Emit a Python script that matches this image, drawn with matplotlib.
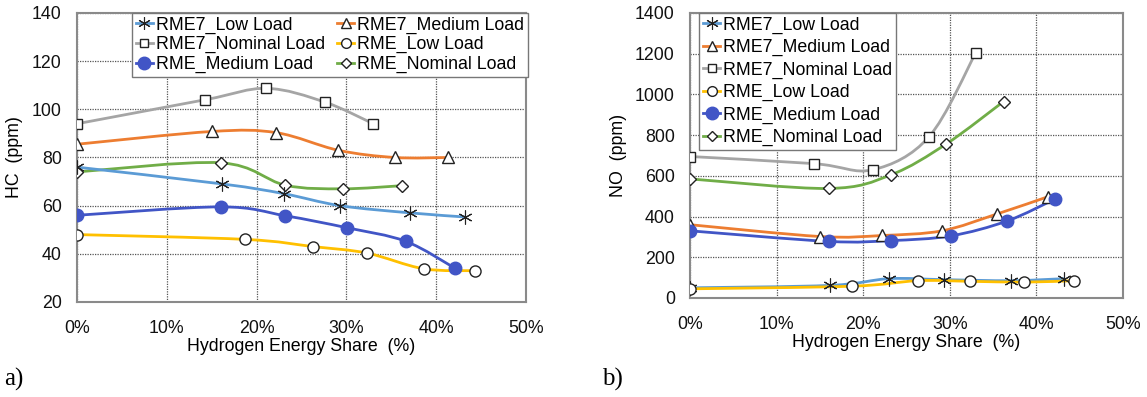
import numpy as np
import matplotlib
matplotlib.use("Agg")
import matplotlib.pyplot as plt
from matplotlib.path import Path
from matplotlib.patches import PathPatch
from matplotlib.lines import Line2D
from matplotlib.ticker import FuncFormatter

plt.rcParams['font.family'] = ['Liberation Sans', 'DejaVu Sans']

# Hydrogen energy share (%) and HC / NO emissions (ppm)
names = ["RME7_Low Load", "RME7_Medium Load", "RME7_Nominal Load",
         "RME_Low Load", "RME_Medium Load", "RME_Nominal Load"]

x_rme7_low = [0, 16.2, 23.0, 29.3, 37.1, 43.2]
x_rme7_med = [0, 15.0, 22.2, 29.1, 35.4, 41.3]
x_rme7_nom = [0, 14.3, 21.1, 27.6, 33.0]
x_rme_low = [0, 18.7, 26.3, 32.3, 38.6, 44.3]
x_rme_med = [0, 16.0, 23.2, 30.1, 36.6, 42.1]
x_rme_nom = [0, 16.0, 23.2, 29.6, 36.2]

hc_rme7_low = [76, 69, 65, 60, 57, 55.3]
hc_rme7_med = [85.5, 90.8, 90.3, 83, 80, 80]
hc_rme7_nom = [94, 104, 108.7, 103, 94]
hc_rme_low = [48, 46, 43, 40.3, 33.8, 33]
hc_rme_med = [56, 59.5, 55.8, 50.8, 45.2, 34]
hc_rme_nom = [74, 77.8, 68.5, 67, 68.3]

no_rme7_low = [50, 62, 95, 90, 85, 95]
no_rme7_med = [360, 302, 307, 330, 412, 497]
no_rme7_nom = [695, 660, 630, 792, 1205]
no_rme_low = [45, 58, 85, 82, 78, 85]
no_rme_med = [330, 278, 282, 305, 378, 485]
no_rme_nom = [585, 538, 605, 757, 965]

hc_ticks = [20, 40, 60, 80, 100, 120, 140]
no_ticks = [0, 200, 400, 600, 800, 1000, 1200, 1400]
x_ticks = [0, 10, 20, 30, 40, 50]

colors = ["#5B9BD5", "#ED7D31", "#A5A5A5", "#FFC000", "#4155C6", "#70AD47"]
markers = [(6, 2, 0), "^", "s", "o", "o", "D"]
msizes = [10, 8, 7, 8, 9, 6]
filled = [False, False, False, False, True, False]
STAR = (6, 2, 0)


def smooth_path(xs, ys):
    """Bezier path through the points, Excel-style smoothed line."""
    pts = np.column_stack([xs, ys]).astype(float)
    n = len(pts)
    verts = [pts[0]]
    codes = [Path.MOVETO]
    for i in range(n - 1):
        p0 = pts[i - 1] if i > 0 else pts[i]
        p1 = pts[i]
        p2 = pts[i + 1]
        p3 = pts[i + 2] if i + 2 < n else pts[i + 1]
        c1 = p1 + (p2 - p0) / 6.0
        c2 = p2 - (p3 - p1) / 6.0
        verts += [c1, c2, p2]
        codes += [Path.CURVE4] * 3
    return Path(verts, codes)


def marker_style(k, legend=False):
    if filled[k]:
        return dict(marker=markers[k], ms=msizes[k], mfc=colors[k], mec=colors[k])
    ms = msizes[k] - (1 if legend else 0)
    mew = 0.8 if markers[k] == STAR else 1.0
    mfc = "none" if markers[k] == STAR else "white"
    return dict(marker=markers[k], ms=ms, mfc=mfc, mec="#222222", mew=mew)


def draw_series(ax, xs, ys, k):
    patch = PathPatch(smooth_path(xs, ys), facecolor="none",
                      edgecolor=colors[k], lw=2.0, zorder=3,
                      transform=ax.transData)
    ax.add_patch(patch)
    ax.plot(xs, ys, ls="none", zorder=4, **marker_style(k))


def legend_handle(k):
    return Line2D([], [], color=colors[k], lw=2.0, **marker_style(k, legend=True))


def style_axes(ax, ylim, yticks):
    ax.set_xlim(0, 50)
    ax.set_ylim(*ylim)
    ax.set_xticks(x_ticks)
    ax.set_yticks(yticks)
    ax.xaxis.set_major_formatter(FuncFormatter(lambda v, p: f"{v:.0f}%"))
    ax.tick_params(length=0, labelsize=12.8, colors="#111111")
    ax.tick_params(axis="x", pad=13)
    ax.tick_params(axis="y", pad=11)
    ax.grid(True, ls=(0, (1, 1)), color="#555555", lw=0.9)
    ax.set_axisbelow(True)
    for s in ax.spines.values():
        s.set_color("#8a8a8a")
        s.set_linewidth(1.5)
    ax.set_xlabel("Hydrogen Energy Share  (%)", fontsize=12.8, labelpad=1)


fig = plt.figure(figsize=(11.47, 3.97), dpi=100)
ax1 = fig.add_axes([0.0671, 0.2393, 0.3915, 0.728])
ax2 = fig.add_axes([0.6016, 0.2494, 0.3775, 0.7179])

xs_all = [x_rme7_low, x_rme7_med, x_rme7_nom, x_rme_low, x_rme_med, x_rme_nom]
hc_all = [hc_rme7_low, hc_rme7_med, hc_rme7_nom, hc_rme_low, hc_rme_med, hc_rme_nom]
no_all = [no_rme7_low, no_rme7_med, no_rme7_nom, no_rme_low, no_rme_med, no_rme_nom]

draw_order = [2, 1, 5, 0, 4, 3]
for k in draw_order:
    draw_series(ax1, xs_all[k], hc_all[k], k)
    draw_series(ax2, xs_all[k], no_all[k], k)

style_axes(ax1, (20, 140), hc_ticks)
style_axes(ax2, (0, 1400), no_ticks)
ax1.set_ylabel("HC  (ppm)", fontsize=12.8, labelpad=6)
ax2.set_ylabel("NO  (ppm)", fontsize=12.8, labelpad=6)

handles = [legend_handle(k) for k in range(6)]

# two columns, filled row by row
col_order = [0, 2, 4, 1, 3, 5]
leg1 = ax1.legend([handles[i] for i in col_order], [names[i] for i in col_order],
                  ncol=2, loc="upper left", bbox_to_anchor=(0.1225, 1.0),
                  borderaxespad=0, fontsize=12.8, frameon=True, fancybox=False,
                  edgecolor="#777777", framealpha=1, handlelength=1.0,
                  handletextpad=0.15, labelspacing=0.14, columnspacing=0.65,
                  borderpad=0.2)
leg1.get_frame().set_linewidth(1.0)

leg2 = ax2.legend(handles, names, loc="upper left", bbox_to_anchor=(0.021, 1.0),
                  borderaxespad=0, fontsize=12.8, frameon=True, fancybox=False,
                  edgecolor="#777777", framealpha=1, handlelength=1.0,
                  handletextpad=0.15, labelspacing=0.3, borderpad=0.2)
leg2.get_frame().set_linewidth(1.0)

fig.text(0.004, 0.03, "a)", fontsize=18, family=["Liberation Serif", "DejaVu Serif"])
fig.text(0.525, 0.03, "b)", fontsize=18, family=["Liberation Serif", "DejaVu Serif"])

fig.savefig("out.png", dpi=100)
